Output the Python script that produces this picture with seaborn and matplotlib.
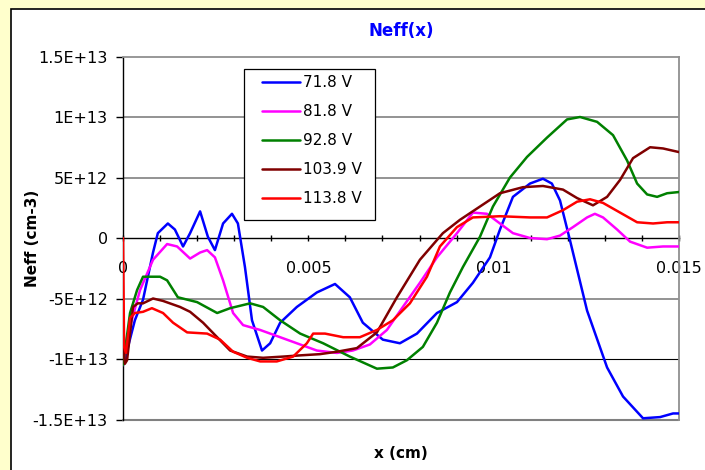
import numpy as np
import pandas as pd
import matplotlib
matplotlib.use("Agg")
import matplotlib.pyplot as plt
from matplotlib.patches import Rectangle
from matplotlib.ticker import MultipleLocator, FixedLocator
import seaborn as sns

# ---------------- data (x in cm, Neff in 1e12 cm-3) ----------------
labels = ["71.8 V", "81.8 V", "92.8 V", "103.9 V", "113.8 V"]
colors = ["#0000FF", "#FF00FF", "#008000", "#800000", "#FF0000"]

x_718 = [0, 0.00008, 0.000135, 0.00032, 0.00054, 0.00081, 0.00094, 0.00121, 0.0014, 0.00162, 0.00181,
         0.00208, 0.00229, 0.00248, 0.0027, 0.00294, 0.0031, 0.00329, 0.00348, 0.00375, 0.00397,
         0.00424, 0.00469, 0.00523, 0.00572, 0.00612, 0.00647, 0.00701, 0.00747, 0.00793, 0.00847,
         0.00901, 0.00944, 0.0099, 0.01017, 0.01052, 0.01098, 0.01133, 0.01157, 0.01179, 0.01206,
         0.01252, 0.01306, 0.01349, 0.01403, 0.01449, 0.01484, 0.015]
y_718 = [-10.5, -10.0, -9.0, -6.8, -5.1, -1.2, 0.4, 1.2, 0.7, -0.7, 0.4,
         2.2, 0.1, -1.0, 1.2, 2.0, 1.2, -2.4, -6.8, -9.3, -8.7,
         -7.0, -5.7, -4.5, -3.8, -4.9, -7.0, -8.4, -8.7, -7.9, -6.2,
         -5.3, -3.7, -1.6, 0.7, 3.4, 4.5, 4.9, 4.5, 3.1, -0.2,
         -6.0, -10.7, -13.1, -14.9, -14.8, -14.5, -14.5]

x_818 = [0, 0.00011, 0.00046, 0.00081, 0.00119, 0.00146, 0.00181, 0.00208, 0.00227, 0.00248, 0.0027,
         0.00297, 0.00324, 0.0037, 0.00424, 0.00469, 0.00523, 0.00577, 0.0062, 0.00666, 0.00712,
         0.00755, 0.00801, 0.00847, 0.00901, 0.00944, 0.00982, 0.01017, 0.01052, 0.01098, 0.01144,
         0.01179, 0.01214, 0.01252, 0.01273, 0.01295, 0.01333, 0.01368, 0.01414, 0.01457, 0.015]
y_818 = [-10.5, -8.2, -4.3, -1.8, -0.5, -0.7, -1.7, -1.2, -1.0, -1.6, -3.5,
         -6.2, -7.2, -7.6, -8.2, -8.7, -9.3, -9.5, -9.3, -8.8, -7.6,
         -5.7, -3.7, -1.6, 0.4, 2.1, 2.0, 1.2, 0.4, 0.0, -0.1,
         0.2, 0.9, 1.7, 2.0, 1.7, 0.7, -0.3, -0.8, -0.7, -0.7]

x_928 = [0, 0.00019, 0.00038, 0.00054, 0.001, 0.00119, 0.00148, 0.002, 0.00254, 0.00289, 0.00343,
         0.00378, 0.00424, 0.00478, 0.0054, 0.00612, 0.00685, 0.00728, 0.00766, 0.00809, 0.00847,
         0.00882, 0.00917, 0.00963, 0.00998, 0.01044, 0.0109, 0.01144, 0.01198, 0.01233, 0.01279,
         0.01322, 0.0136, 0.01387, 0.01414, 0.01441, 0.01468, 0.015]
y_928 = [-10.5, -6.2, -4.3, -3.2, -3.2, -3.5, -4.9, -5.3, -6.2, -5.8, -5.4,
         -5.7, -6.8, -7.9, -8.7, -9.8, -10.8, -10.7, -10.1, -9.0, -7.0,
         -4.5, -2.4, 0.1, 2.6, 5.0, 6.7, 8.3, 9.8, 10.0, 9.6,
         8.5, 6.4, 4.5, 3.6, 3.4, 3.7, 3.8]

x_1039 = [0, 0.00005, 0.00011, 0.00027, 0.0004, 0.00054, 0.00081, 0.00108, 0.00154, 0.00181, 0.00216,
          0.00254, 0.00289, 0.00335, 0.00378, 0.00432, 0.00478, 0.00531, 0.00577, 0.00631, 0.00685,
          0.00739, 0.00801, 0.00863, 0.00909, 0.00963, 0.01017, 0.01079, 0.01133, 0.01187, 0.01225,
          0.01268, 0.01306, 0.01341, 0.01376, 0.01422, 0.01457, 0.015]
y_1039 = [-8.0, -10.4, -10.1, -5.7, -5.4, -5.4, -5.0, -5.2, -5.7, -6.1, -7.0,
          -8.2, -9.3, -9.8, -9.9, -9.8, -9.7, -9.6, -9.4, -9.1, -7.8,
          -4.9, -1.8, 0.4, 1.5, 2.6, 3.7, 4.2, 4.3, 4.0, 3.3,
          2.7, 3.4, 4.8, 6.6, 7.5, 7.4, 7.1]

x_1138 = [0, 0.00003, 0.00008, 0.00019, 0.00032, 0.00054, 0.00078, 0.00108, 0.00135, 0.00173, 0.00227,
          0.00262, 0.00297, 0.00335, 0.0037, 0.00415, 0.00459, 0.00496, 0.00513, 0.00545, 0.00594,
          0.00639, 0.00685, 0.00728, 0.00774, 0.0082, 0.00855, 0.00901, 0.00944, 0.01017, 0.01098,
          0.01144, 0.01187, 0.01225, 0.0126, 0.01295, 0.01341, 0.01387, 0.0143, 0.01468, 0.015]
y_1138 = [0.0, -9.0, -9.5, -6.6, -6.2, -6.1, -5.8, -6.2, -7.0, -7.8, -7.9,
          -8.4, -9.4, -9.9, -10.2, -10.2, -9.8, -8.7, -7.9, -7.9, -8.2,
          -8.2, -7.6, -6.8, -5.4, -3.2, -0.7, 0.9, 1.7, 1.8, 1.7,
          1.7, 2.3, 3.0, 3.2, 2.9, 2.1, 1.3, 1.2, 1.3, 1.3]

y_ticks = [-1.5e13, -1e13, -5e12, 0, 5e12, 1e13, 1.5e13]
y_tick_labels = ["-1.5E+13", "-1E+13", "-5E+12", "0", "5E+12", "1E+13", "1.5E+13"]
x_ticks = [0, 0.005, 0.01, 0.015]
x_tick_labels = ["0", "0.005", "0.01", "0.015"]

series_x = [x_718, x_818, x_928, x_1039, x_1138]
series_y = [y_718, y_818, y_928, y_1039, y_1138]

frames = []
for lab, xs, ys in zip(labels, series_x, series_y):
    frames.append(pd.DataFrame({"x": xs, "Neff": np.array(ys) * 1e12, "series": lab}))
df = pd.concat(frames, ignore_index=True)

# ---------------- figure ----------------
sns.set_theme(style="white")
plt.rcParams["font.family"] = ["DejaVu Sans"]
plt.rcParams["text.color"] = "black"
plt.rcParams["axes.labelcolor"] = "black"
plt.rcParams["xtick.color"] = "black"
plt.rcParams["ytick.color"] = "black"

W, H = 705, 470
fig = plt.figure(figsize=(W / 100, H / 100), dpi=100, facecolor="#FFFFCC")
# white chart area with black border
fig.patches.append(Rectangle((11 / W, -0.01), 1.02, 1 - 9 / H + 0.01, transform=fig.transFigure,
                             facecolor="white", edgecolor="black", linewidth=1.2, zorder=-10))

ax = fig.add_axes([123 / W, 1 - 419.5 / H, (679 - 123) / W, (419.5 - 56.5) / H])
ax.set_zorder(5)
ax.set_facecolor("white")

sns.lineplot(data=df, x="x", y="Neff", hue="series", hue_order=labels, palette=colors,
             sort=False, estimator=None, linewidth=1.8, ax=ax, zorder=3)

ax.set_xlim(0, 0.015)
ax.set_ylim(-1.5e13, 1.5e13)

ax.set_yticks(y_ticks)
ax.set_yticklabels(y_tick_labels)
for v in y_ticks[1:-1]:
    if v == -1e13:
        ax.axhline(v, color="black", linewidth=0.8, zorder=1)
    elif v != 0:
        ax.axhline(v, color="#808080", linewidth=1.2, zorder=1)

# frame
for s in ["top", "right"]:
    ax.spines[s].set_color("#909090")
    ax.spines[s].set_linewidth(1.3)
ax.spines["left"].set_color("black")
ax.spines["left"].set_linewidth(1.0)
ax.spines["bottom"].set_position(("data", 0))
ax.spines["bottom"].set_color("black")
ax.spines["bottom"].set_linewidth(1.0)
ax.spines["bottom"].set_zorder(2)
ax.axhline(-1.5e13, color="#808080", linewidth=1.5, zorder=1, clip_on=False)

ax.xaxis.set_major_locator(FixedLocator(x_ticks))
ax.set_xticklabels(x_tick_labels)
ax.xaxis.set_minor_locator(MultipleLocator(0.001))
ax.tick_params(axis="x", which="both", direction="inout", length=5, width=1, color="black",
               bottom=True, labelsize=11.5, pad=14, labelcolor="black")
ax.tick_params(axis="y", which="major", direction="out", length=5, width=1, color="black",
               left=True, labelsize=11.5, pad=6, labelcolor="black")

ax.set_xlabel("x (cm)", fontsize=11, fontweight="bold", labelpad=0, color="black")
ax.xaxis.set_label_coords(0.5, -0.073)
ax.set_ylabel("Neff (cm-3)", fontsize=11, fontweight="bold", color="black")
ax.yaxis.set_label_coords(-0.149, 0.5)
ax.set_title("Neff(x)", fontsize=12, fontweight="bold", color="#0000FF", pad=15)

# legend (frame drawn separately to match Excel's box)
ax.add_patch(Rectangle((0.2176, 0.5496), 0.4532 - 0.2176, 0.9656 - 0.5496, transform=ax.transAxes,
                       facecolor="white", edgecolor="black", linewidth=0.9, zorder=6, clip_on=False))
leg = ax.legend(loc="upper left", bbox_to_anchor=(0.25, 0.949), frameon=False,
                fontsize=11, handlelength=2.48, handletextpad=0.2, labelspacing=0.92,
                borderpad=0, borderaxespad=0, labelcolor="black")
leg.set_zorder(7)
for line in leg.get_lines():
    line.set_linewidth(1.8)

fig.savefig("out.png", dpi=100, facecolor=fig.get_facecolor())
